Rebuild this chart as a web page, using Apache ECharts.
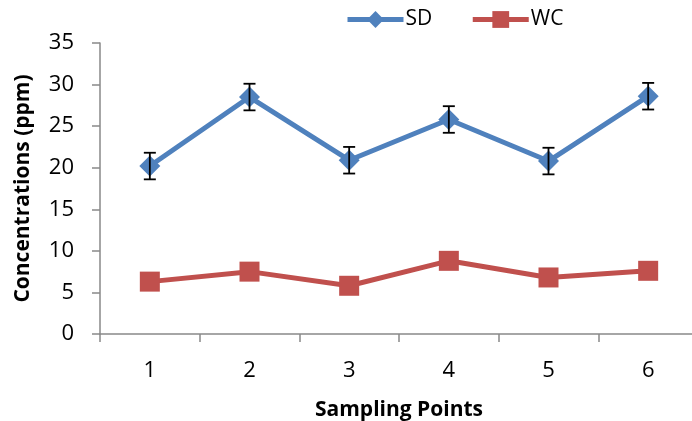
<!DOCTYPE html>
<html><head><meta charset="utf-8">
<script src="https://cdn.jsdelivr.net/npm/echarts@6/dist/echarts.min.js"></script>
<style>html,body{margin:0;padding:0;background:#fff;overflow:hidden;width:692px;height:421px}#c{width:698px;height:421px}</style>
</head><body><div id="c"></div>
<script>
const categories = ['1','2','3','4','5','6'];
const sdValues = [20.2, 28.5, 20.9, 25.8, 20.8, 28.6];
const sdErrors = [1.6, 1.6, 1.6, 1.6, 1.6, 1.6];
const wcValues = [6.3, 7.5, 5.8, 8.8, 6.8, 7.6];
const yTicks = [0, 5, 10, 15, 20, 25, 30, 35];

const FONT = '"Open Sans", "Liberation Sans", sans-serif';
const BLUE = '#4F81BD', RED = '#C0504D';

const chart = echarts.init(document.getElementById('c'), null, {renderer: 'canvas'});
const errData = categories.map((c, i) => [i, sdValues[i] - sdErrors[i], sdValues[i] + sdErrors[i]]);

chart.setOption({
  animation: false,
  backgroundColor: '#fff',
  grid: {left: 100, right: 0, top: 43, bottom: 87, containLabel: false, outerBoundsMode: 'none'},
  legend: {
    top: 9, left: 345, padding: 0,
    itemWidth: 56, itemHeight: 21, itemGap: 38,
    textStyle: {fontFamily: FONT, fontSize: 21, color: '#000', padding: [0, 0, 0, -3]},
    data: [
      {name: 'SD', itemStyle: {color: BLUE}, lineStyle: {color: BLUE, width: 5}},
      {name: 'WC', itemStyle: {color: RED}, lineStyle: {color: RED, width: 5}}
    ]
  },
  xAxis: {
    type: 'category', data: categories, boundaryGap: true,
    name: 'Sampling Points', nameLocation: 'middle', nameGap: 66,
    nameTextStyle: {fontFamily: FONT, fontSize: 21, fontWeight: 'bold', color: '#000'},
    axisLine: {lineStyle: {color: '#898989', width: 1.5}},
    axisTick: {show: true, length: 8, inside: false, alignWithLabel: false, lineStyle: {color: '#898989', width: 1.5}},
    axisLabel: {fontFamily: FONT, fontSize: 22, color: '#000', margin: 26},
    splitLine: {show: false}
  },
  yAxis: {
    type: 'value', min: yTicks[0], max: yTicks[yTicks.length - 1], interval: 5,
    name: 'Concentrations (ppm)', nameLocation: 'middle', nameGap: 66,
    nameTextStyle: {fontFamily: FONT, fontSize: 21, fontWeight: 'bold', color: '#000'},
    axisLine: {show: true, lineStyle: {color: '#898989', width: 1.5}},
    axisTick: {show: true, length: 8, inside: false, lineStyle: {color: '#898989', width: 1.5}},
    axisLabel: {fontFamily: FONT, fontSize: 22, color: '#000', margin: 26},
    splitLine: {show: false}
  },
  series: [
    {
      name: 'SD', type: 'line', data: sdValues,
      symbol: 'diamond', symbolSize: 21,
      lineStyle: {color: BLUE, width: 5},
      itemStyle: {color: BLUE},
      z: 2
    },
    {
      name: 'WC', type: 'line', data: wcValues,
      symbol: 'rect', symbolSize: 20,
      lineStyle: {color: RED, width: 5},
      itemStyle: {color: RED},
      z: 2
    },
    {
      name: 'SD error', type: 'custom', data: errData, z: 3,
      renderItem: function (params, api) {
        const x = api.value(0);
        const lo = api.coord([x, api.value(1)]);
        const hi = api.coord([x, api.value(2)]);
        const hw = 6;
        const style = {stroke: '#000', lineWidth: 1.8, fill: null};
        return {
          type: 'group',
          children: [
            {type: 'line', shape: {x1: hi[0], y1: hi[1], x2: lo[0], y2: lo[1]}, style},
            {type: 'line', shape: {x1: hi[0] - hw, y1: hi[1], x2: hi[0] + hw, y2: hi[1]}, style},
            {type: 'line', shape: {x1: lo[0] - hw, y1: lo[1], x2: lo[0] + hw, y2: lo[1]}, style}
          ]
        };
      }
    }
  ]
});
</script></body></html>
